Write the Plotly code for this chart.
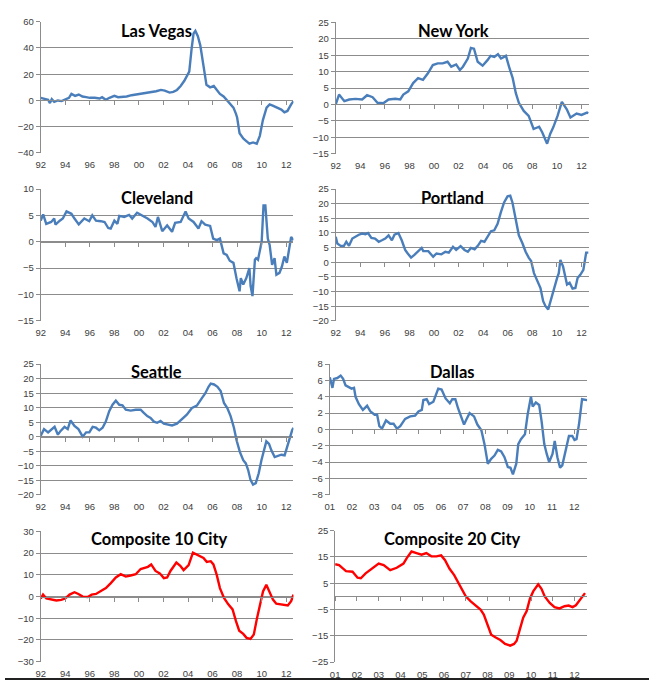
import plotly.graph_objects as go

# Case-Shiller home prices, % change year over year
lv_x = [1992.0, 1992.3, 1992.6, 1992.75, 1992.9, 1993.1, 1993.4, 1993.7, 1994.0, 1994.3, 1994.5, 1994.8,
        1995.1, 1995.4, 1995.7, 1996.0, 1996.4, 1996.8, 1997.0, 1997.3, 1997.6, 1998.0, 1998.3, 1998.7,
        1999.0, 1999.4, 1999.8, 2000.2, 2000.6, 2001.0, 2001.4, 2001.8, 2002.1, 2002.5, 2002.8, 2003.1,
        2003.4, 2003.7, 2003.9, 2004.1, 2004.3, 2004.45, 2004.6, 2004.8, 2005.0, 2005.25, 2005.5, 2005.8,
        2006.1, 2006.35, 2006.6, 2006.9, 2007.2, 2007.45, 2007.7, 2007.9, 2008.0, 2008.2, 2008.5, 2008.75,
        2009.0, 2009.3, 2009.6, 2009.85, 2010.1, 2010.4, 2010.65, 2010.9, 2011.3, 2011.6, 2011.85, 2012.1,
        2012.4, 2012.59]
lv_y = [2, 1, 0.5, -2, 1, -1, 0, -0.5, 1, 2, 5, 3.5,
        4.5, 3, 2.5, 2, 2, 1.5, 2.5, 0.5, 2, 3.5, 2.5, 2.5,
        3, 4, 4.5, 5, 5.5, 6, 7, 8, 7.5, 6, 6.5, 8,
        11, 15, 19, 22, 40, 51, 53, 49, 42, 27, 12, 10,
        11, 8, 5, 3, 0, -2.5, -5.5, -10, -13, -25, -29, -31,
        -33, -32, -33, -27, -15, -5.5, -3, -4, -5.5, -7, -9, -8,
        -3, -0.5]

ny_x = [1992.0, 1992.27, 1992.7, 1993.1, 1993.6, 1994.15, 1994.55, 1995.0, 1995.4, 1995.9, 1996.3, 1996.85,
        1997.25, 1997.5, 1997.9, 1998.3, 1998.7, 1999.1, 1999.5, 1999.9, 2000.3, 2000.7, 2001.1, 2001.4,
        2001.8, 2002.1, 2002.35, 2002.75, 2003.0, 2003.25, 2003.55, 2003.95, 2004.35, 2004.6, 2004.9, 2005.2,
        2005.45, 2005.85, 2006.1, 2006.4, 2006.65, 2006.9, 2007.3, 2007.7, 2008.1, 2008.55, 2008.8, 2009.2,
        2009.45, 2009.7, 2010.05, 2010.4, 2010.8, 2011.1, 2011.6, 2012.0, 2012.45, 2012.56]
ny_y = [0, 3, 1, 1.5, 1.7, 1.5, 2.8, 2.2, 0.5, 0.4, 1.5, 1.7,
        1.5, 3, 4, 6.5, 8, 7.5, 9.5, 12, 12.5, 12.5, 13, 11.5,
        12.2, 10.5, 11.5, 14, 17.2, 17, 13, 11.8, 13.5, 14.8, 14.5, 15.3,
        14, 14.8, 11.5, 8, 3.5, 0.5, -2, -3.5, -7.5, -6.8, -8.5, -12,
        -9, -7, -3.5, 0.8, -1.5, -4, -2.8, -3.2, -2.5, -2.7]

cle_x = [1992.0, 1992.2, 1992.45, 1992.85, 1993.1, 1993.2, 1993.55, 1993.8, 1994.1, 1994.5, 1994.75, 1995.1,
         1995.55, 1995.95, 1996.2, 1996.5, 1996.9, 1997.2, 1997.5, 1997.7, 1998.0, 1998.25, 1998.4, 1998.8,
         1999.2, 1999.45, 1999.85, 2000.25, 2000.7, 2001.1, 2001.35, 2001.55, 2001.9, 2002.3, 2002.7, 2002.95,
         2003.4, 2003.8, 2004.05, 2004.45, 2004.85, 2005.1, 2005.4, 2005.8, 2006.05, 2006.35, 2006.6, 2006.9,
         2007.15, 2007.4, 2007.7, 2007.95, 2008.2, 2008.3, 2008.5, 2008.75, 2009.0, 2009.1, 2009.25, 2009.45,
         2009.55, 2009.7, 2010.0, 2010.15, 2010.3, 2010.5, 2010.65, 2010.85, 2011.05, 2011.2, 2011.45, 2011.65,
         2011.85, 2012.05, 2012.2, 2012.4, 2012.6]
cle_y = [4, 5.2, 3.4, 3.75, 4.4, 3.25, 4, 4.4, 5.75, 5.3, 4.4, 3.3,
         4.4, 3.9, 5, 4, 3.9, 3.75, 2.6, 2.5, 4, 3.4, 4.9, 4.7,
         5.1, 4.4, 5.5, 5, 4.4, 3.75, 2.8, 4.7, 2, 3.1, 1.9, 3.6,
         3.75, 5.75, 4.4, 3.75, 2.5, 3.9, 3.25, 3, 0.6, 0.3, 0.6, -2.2,
         -2.5, -3.6, -4, -6.9, -9.4, -6.9, -8.1, -6.9, -5, -8.4, -10.3, -3.4,
         -3.1, -3.4, 0, 6.9, 6.9, 0.6, -0.6, -4.4, -3.1, -6.25, -5.9, -4.7,
         -2.8, -4, -1.9, 0.9, 0.3]

por_x = [1992.0, 1992.13, 1992.4, 1992.67, 1992.86, 1993.08, 1993.35, 1993.56, 1993.88, 1994.15, 1994.42, 1994.63,
         1994.9, 1995.2, 1995.5, 1995.76, 1996.03, 1996.3, 1996.57, 1996.78, 1997.1, 1997.37, 1997.65, 1997.86,
         1998.13, 1998.4, 1998.72, 1998.99, 1999.12, 1999.53, 1999.93, 2000.2, 2000.6, 2000.92, 2001.2, 2001.54,
         2001.8, 2002.16, 2002.48, 2002.75, 2003.0, 2003.3, 2003.56, 2003.83, 2004.1, 2004.36, 2004.63, 2004.9,
         2005.17, 2005.44, 2005.7, 2005.98, 2006.2, 2006.38, 2006.65, 2006.9, 2007.2, 2007.45, 2007.7, 2007.9,
         2008.13, 2008.4, 2008.66, 2008.88, 2009.07, 2009.29, 2009.47, 2009.74, 2010.01, 2010.15, 2010.28, 2010.5,
         2010.82, 2011.03, 2011.27, 2011.5, 2011.68, 2011.9, 2012.15, 2012.38, 2012.56]
por_y = [8.7, 6.4, 5.6, 5.6, 7, 5.6, 8.1, 8.7, 9.4, 9.8, 9.6, 10,
         8.3, 8.1, 7, 7.5, 8.1, 9.2, 7.5, 9.4, 10, 7.5, 4.2, 3,
         1.6, 2.5, 3.8, 4.9, 3.8, 3.8, 1.9, 3, 2.7, 3.6, 3.3, 5.3,
         4.2, 5.5, 4.2, 3.6, 4.9, 4.4, 5.6, 7.3, 7, 8.7, 10.6, 10.9,
         13.1, 17.1, 20.4, 22.5, 22.7, 20.4, 14.8, 9.2, 6.4, 3.6, 1.6, 0.4,
         -3.7, -6, -8.8, -13.3, -15, -16.1, -13.3, -9.9, -5.4, -3.7, 0.8, -1.5,
         -7.6, -7, -9, -8.8, -5.4, -4.3, -2.6, 3.3, 3.3]

sea_x = [1992.0, 1992.27, 1992.6, 1992.86, 1993.13, 1993.4, 1993.62, 1993.94, 1994.2, 1994.43, 1994.75, 1995.07,
         1995.42, 1995.7, 1995.96, 1996.23, 1996.5, 1996.77, 1997.04, 1997.3, 1997.58, 1997.85, 1998.12, 1998.4,
         1998.66, 1998.93, 1999.33, 1999.74, 2000.14, 2000.4, 2000.68, 2000.95, 2001.22, 2001.49, 2001.76, 2002.03,
         2002.3, 2002.7, 2003.1, 2003.5, 2003.9, 2004.32, 2004.72, 2005.13, 2005.4, 2005.67, 2005.85, 2006.12,
         2006.4, 2006.66, 2006.93, 2007.2, 2007.47, 2007.74, 2007.96, 2008.23, 2008.5, 2008.71, 2008.9, 2009.09,
         2009.3, 2009.52, 2009.76, 2009.98, 2010.17, 2010.38, 2010.6, 2010.79, 2011.06, 2011.33, 2011.6, 2011.87,
         2012.05, 2012.27, 2012.48, 2012.59]
sea_y = [0.3, 2.6, 1.5, 2.6, 3.4, 0.7, 2, 3.4, 2.6, 5.6, 3.7, 2.6,
         0, 1.5, 1.5, 3.4, 3.1, 2.2, 3.1, 5.2, 8.8, 11, 12.4, 11,
         10.8, 9.3, 9, 9.3, 9.3, 8.2, 7.1, 6.5, 5.2, 4.8, 5.4, 4.5,
         4.3, 3.9, 4.5, 6, 7.6, 9.9, 10.7, 13.3, 14.9, 17.2, 18.3, 18,
         17.2, 15.7, 11.6, 9.9, 7.1, 3.1, -1.3, -5.3, -8.1, -9.2, -11.5, -14.9,
         -16.5, -16, -12.6, -8.1, -4.7, -1.6, -2.5, -4.7, -7, -6.7, -6.2, -6.4,
         -3.6, -1.1, 2.2, 3.1]

dal_x = [2001.0, 2001.12, 2001.19, 2001.34, 2001.49, 2001.6, 2001.71, 2001.86, 2001.98, 2002.09, 2002.16, 2002.31,
         2002.49, 2002.68, 2002.83, 2003.02, 2003.13, 2003.23, 2003.35, 2003.53, 2003.72, 2003.87, 2004.02, 2004.17,
         2004.39, 2004.62, 2004.84, 2004.99, 2005.14, 2005.21, 2005.36, 2005.47, 2005.66, 2005.88, 2006.03, 2006.21,
         2006.4, 2006.51, 2006.65, 2006.77, 2006.89, 2007.04, 2007.14, 2007.29, 2007.49, 2007.64, 2007.82, 2007.96,
         2008.11, 2008.26, 2008.41, 2008.56, 2008.71, 2008.86, 2009.01, 2009.13, 2009.24, 2009.39, 2009.48, 2009.6,
         2009.78, 2009.9, 2010.05, 2010.13, 2010.27, 2010.42, 2010.53, 2010.65, 2010.76, 2010.87, 2011.02, 2011.12,
         2011.24, 2011.36, 2011.46, 2011.61, 2011.76, 2011.91, 2012.01, 2012.1, 2012.21, 2012.35, 2012.58]
dal_y = [6.4, 5.1, 6.2, 6.3, 6.6, 6.2, 5.4, 5.2, 5, 5.1, 4, 3.1,
         2.4, 2.9, 2.2, 1.8, 1.8, 0.4, 0.1, 1.1, 0.7, 0.7, 0.1, 0.4,
         1.3, 1.6, 1.7, 2.2, 2.4, 3.6, 3.7, 3.1, 3.4, 5, 4.9, 3.8,
         3.2, 3.7, 3.7, 2.6, 1.6, 0.6, 1.2, 2, 1.6, 0.6, -0.1, -1.8,
         -4.2, -3.6, -3.2, -2.5, -2.7, -3.4, -4.6, -4.7, -5.5, -4.2, -1.8, -1.2,
         -0.6, 1.8, 4, 2.8, 3.3, 3, 1, -1.8, -3, -4, -3, -1.4,
         -3.4, -4.7, -4.4, -2.6, -0.8, -0.8, -1.3, -1.2, 0.6, 3.7, 3.6]

c10_x = [1992.0, 1992.19, 1992.46, 1992.86, 1993.27, 1993.67, 1993.99, 1994.35, 1994.75, 1995.07, 1995.42, 1995.83,
         1996.15, 1996.5, 1996.91, 1997.31, 1997.71, 1998.12, 1998.52, 1998.93, 1999.33, 1999.74, 2000.14, 2000.41,
         2000.73, 2001.0, 2001.35, 2001.7, 2002.03, 2002.3, 2002.57, 2003.05, 2003.37, 2003.64, 2004.05, 2004.4,
         2004.72, 2004.99, 2005.26, 2005.53, 2005.85, 2006.07, 2006.34, 2006.6, 2006.93, 2007.28, 2007.63, 2007.9,
         2008.17, 2008.5, 2008.77, 2009.09, 2009.36, 2009.63, 2009.9, 2010.11, 2010.38, 2010.65, 2010.92, 2011.19,
         2011.6, 2011.87, 2012.13, 2012.4, 2012.59]
c10_y = [-0.9, 0.9, -0.9, -1.4, -1.8, -1.5, -0.9, 0.9, 2, 1.2, 0, -0.2,
         0.9, 1.2, 2.4, 3.9, 6.2, 8.8, 10.3, 9.2, 9.7, 10.3, 12.7, 13.3,
         13.7, 14.8, 11.8, 10.7, 8.5, 8.8, 11.8, 15.7, 14.2, 12.2, 14.5, 20.2,
         19.3, 18.3, 17.8, 16, 16.3, 14.8, 10, 3.9, -0.6, -3.6, -5.9, -11.2,
         -15.7, -17.2, -19, -19.5, -17.5, -9.7, -2.9, 2.4, 5.4, 1.7, -1.4, -3.3,
         -3.6, -3.6, -4.1, -2.1, 0.9]

c20_x = [2001.0, 2001.18, 2001.5, 2001.8, 2002.03, 2002.18, 2002.4, 2002.7, 2003.0, 2003.23, 2003.53, 2003.83,
         2004.14, 2004.29, 2004.51, 2004.74, 2004.97, 2005.19, 2005.42, 2005.65, 2005.87, 2006.05, 2006.25, 2006.47,
         2006.63, 2006.78, 2007.0, 2007.23, 2007.46, 2007.68, 2007.83, 2007.98, 2008.17, 2008.36, 2008.59, 2008.81,
         2009.04, 2009.22, 2009.34, 2009.49, 2009.64, 2009.8, 2009.95, 2010.1, 2010.33, 2010.48, 2010.63, 2010.86,
         2011.08, 2011.31, 2011.54, 2011.73, 2011.91, 2012.06, 2012.28, 2012.48]
c20_y = [12.25, 11.9, 9.6, 9.4, 7.1, 6.9, 8.75, 10.6, 12.5, 11.9, 10, 10.9,
         12.5, 14.6, 17.1, 16.5, 15.9, 16.5, 15.25, 15.25, 15.6, 13.75, 10.6, 8.1,
         5.6, 2.9, 0, -1.9, -3.5, -5, -6.9, -10.6, -14.6, -15.6, -16.6, -18.1,
         -18.75, -18.1, -16.9, -12.5, -8.1, -5.6, -0.9, 1.9, 4.6, 2.9, 0, -2.5,
         -4.1, -4.6, -3.75, -3.5, -4.1, -3.4, -0.9, 1.25]

years_long = list(range(1992, 2013, 2))
labels_long = ['%02d' % (y % 100) for y in years_long]
years_short = list(range(2001, 2013))
labels_short = ['%02d' % (y % 100) for y in years_short]

W, H = 649, 686
BLUE = '#4a7ebb'
RED = '#ff0000'
GRID = '#8c8c8c'

# name, x, y, colour, y range, dtick, x span (px), y span (px), title centre (px), long/short years
panels = [
    ('Las Vegas', lv_x, lv_y, BLUE, [-40, 60], 20, (36, 290.7), (16, 149.3), (153, 25), True),
    ('New York', ny_x, ny_y, BLUE, [-15, 25], 5, (333.3, 588.3), (16.7, 150), (452, 25), True),
    ('Cleveland', cle_x, cle_y, BLUE, [-15, 10], 5, (36, 290.7), (186, 320), (153, 195), True),
    ('Portland', por_x, por_y, BLUE, [-20, 25], 5, (333.3, 588.3), (186, 320), (451, 195), True),
    ('Seattle', sea_x, sea_y, BLUE, [-20, 25], 5, (36, 290.7), (364, 496.7), (153, 372), True),
    ('Dallas', dal_x, dal_y, BLUE, [-8, 8], 2, (327.3, 586.7), (364, 496.7), (451, 372), False),
    ('Composite 10 City', c10_x, c10_y, RED, [-30, 30], 10, (36, 290.7), (534, 666.4), (156, 542), True),
    ('Composite 20 City', c20_x, c20_y, RED, [-25, 25], 10, (332.7, 586.7), (533.3, 666.7), (451, 542), False),
]

fig = go.Figure()
layout = {}
tick_font = dict(family='Liberation Sans', size=9.5, color='#404040')

for i, (name, xs, ys, col, yr, dt, xsp, ysp, tpos, long_years) in enumerate(panels, start=1):
    xr = [1992, 2012.59] if long_years else [2001, 2012.58]
    tv = years_long if long_years else years_short
    tt = labels_long if long_years else labels_short
    xdom = [xsp[0] / W, xsp[1] / W]
    ydom = [1 - ysp[1] / H, 1 - ysp[0] / H]
    zero_pos = ydom[0] + (0 - yr[0]) / (yr[1] - yr[0]) * (ydom[1] - ydom[0])

    fig.add_trace(go.Scatter(x=xs, y=ys, mode='lines', line=dict(color=col, width=2.4),
                             xaxis='x%d' % i, yaxis='y%d' % i, showlegend=False))
    # invisible trace so the zero-line axis gets drawn
    fig.add_trace(go.Scatter(x=[xr[0]], y=[0], mode='markers', marker=dict(opacity=0),
                             xaxis='x%d' % (i + 8), yaxis='y%d' % i, showlegend=False, hoverinfo='skip'))

    layout['xaxis%d' % i] = dict(domain=xdom, anchor='y%d' % i, range=xr, tickmode='array',
                                 tickvals=tv, ticktext=tt, showgrid=False, showline=False,
                                 zeroline=False, ticks='', tickfont=tick_font, ticklabelstandoff=5)
    layout['yaxis%d' % i] = dict(domain=ydom, anchor='x%d' % i, range=yr, dtick=dt, tick0=yr[0],
                                 showgrid=True, gridcolor=GRID, gridwidth=1, showline=True,
                                 linecolor=GRID, linewidth=1, ticks='outside', ticklen=4,
                                 tickcolor=GRID, zeroline=False, tickfont=tick_font)
    layout['xaxis%d' % (i + 8)] = dict(domain=xdom, overlaying='x%d' % i, anchor='free',
                                       position=zero_pos, range=xr, tickmode='array', tickvals=tv,
                                       showticklabels=False, showline=True, linecolor=GRID,
                                       linewidth=1, ticks='outside', ticklen=4, tickcolor=GRID,
                                       showgrid=False, zeroline=False)

    fig.add_annotation(text='<b>%s</b>' % name, xref='paper', yref='paper',
                       x=tpos[0] / W, y=1 - tpos[1] / H, xanchor='center', yanchor='middle',
                       showarrow=False, font=dict(family='Lato', size=16.5, color='black'))

fig.add_shape(type='line', xref='paper', yref='paper', x0=0, x1=1, y0=1 - 684 / H, y1=1 - 684 / H,
              line=dict(color='#222222', width=2))

fig.update_layout(
    width=W,
    height=H,
    margin=dict(l=0, r=0, t=0, b=0),
    plot_bgcolor='white',
    paper_bgcolor='white',
    showlegend=False,
    **layout
)

# the page body has a default 8px margin; drop it so the figure fills the window
fig.write_html('out.html', config={'displayModeBar': False},
               post_script="document.body.style.margin='0';")
